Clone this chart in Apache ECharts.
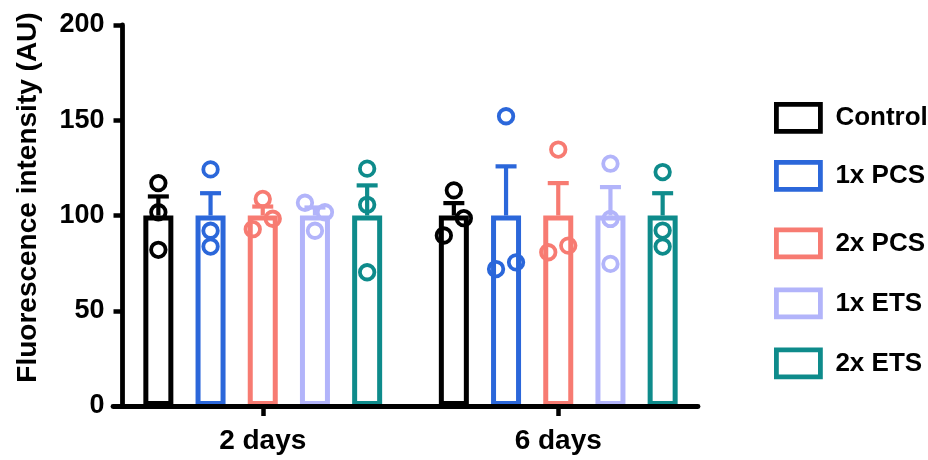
<!DOCTYPE html>
<html><head><meta charset="utf-8">
<script src="https://cdn.jsdelivr.net/npm/echarts@6/dist/echarts.min.js"></script>
<style>html,body{margin:0;padding:0;background:#fff}#c{width:928px;height:460px}</style>
</head><body><div id="c"></div>
<script>
// ---- data ----
const categories = ['2 days', '6 days'];
const groups = ['Control', '1x PCS', '2x PCS', '1x ETS', '2x ETS'];
const colors = ['#000000', '#2B67DA', '#F77B72', '#B2B4FA', '#0E8B8B'];

const meanControl = [100, 100];
const meanPCS1 = [100, 100];
const meanPCS2 = [100, 100];
const meanETS1 = [100, 100];
const meanETS2 = [100, 100];

const semControl = [10.0, 6.5];
const semPCS1 = [11.7, 25.8];
const semPCS2 = [4.7, 17.0];
const semETS1 = [4.2, 14.9];
const semETS2 = [15.8, 11.7];

const ptsControl = [[117.0, 101.7, 82.0], [113.2, 98.6, 89.5]];
const ptsPCS1 = [[124.2, 92.0, 83.7], [152.1, 75.4, 71.9]];
const ptsPCS2 = [[108.7, 98.3, 92.8], [134.6, 84.2, 80.7]];
const ptsETS1 = [[106.7, 101.7, 92.0], [127.2, 98.2, 74.6]];
const ptsETS2 = [[124.6, 105.6, 70.2], [122.8, 92.1, 83.7]];

// horizontal jitter side of each point (-1 left, 0 centre, 1 right)
const jitControl = [[0, 0, 0], [0, 1, -1]];
const jitPCS1 = [[0, 0, 0], [0, 1, -1]];
const jitPCS2 = [[0, 1, -1], [0, 1, -1]];
const jitETS1 = [[-1, 1, 0], [0, 0, 0]];
const jitETS2 = [[0, 0, 0], [0, 0, 0]];

const yTicks = [0, 50, 100, 150, 200];

// ---- layout ----
const means = [meanControl, meanPCS1, meanPCS2, meanETS1, meanETS2];
const sems = [semControl, semPCS1, semPCS2, semETS1, semETS2];
const pts = [ptsControl, ptsPCS1, ptsPCS2, ptsETS1, ptsETS2];
const jits = [jitControl, jitPCS1, jitPCS2, jitETS1, jitETS2];

const FONT = 'Liberation Sans, Arial, Helvetica, sans-serif';
const gridLeft = 115, gridWidth = 591;
const barWidth = 30, barGap = 0.74;
const catPx = gridWidth / categories.length;
const stepU = barWidth * (1 + barGap) / catPx;
const jitU = 10 / catPx;
const legendTops = [102, 160, 227.5, 287.5, 347.5];

const series = [];
groups.forEach((g, i) => {
  series.push({
    type: 'bar', name: g, xAxisIndex: 0, yAxisIndex: 0,
    data: means[i], barWidth: barWidth, barGap: (barGap * 100) + '%',
    itemStyle: { color: '#fff', borderColor: colors[i], borderWidth: 5 },
    z: 2, silent: true
  });
});
groups.forEach((g, i) => {
  const d = categories.map((c, ci) => [ci + (i - 2) * stepU, means[i][ci], means[i][ci] + sems[i][ci]]);
  series.push({
    type: 'custom', name: g, xAxisIndex: 1, yAxisIndex: 0, data: d, z: 3, silent: true,
    renderItem: (params, api) => {
      const x = api.value(0), m = api.value(1), t = api.value(2);
      const p0 = api.coord([x, m]), p1 = api.coord([x, t]);
      const half = 10.5;
      return { type: 'group', children: [
        { type: 'line', shape: { x1: p0[0], y1: p0[1], x2: p1[0], y2: p1[1] }, style: { stroke: colors[i], lineWidth: 4.2 } },
        { type: 'line', shape: { x1: p1[0] - half, y1: p1[1], x2: p1[0] + half, y2: p1[1] }, style: { stroke: colors[i], lineWidth: 4.2 } }
      ] };
    }
  });
});
groups.forEach((g, i) => {
  const d = [];
  categories.forEach((c, ci) => {
    pts[i][ci].forEach((v, k) => d.push([ci + (i - 2) * stepU + jits[i][ci][k] * jitU, v]));
  });
  series.push({
    type: 'scatter', name: g, xAxisIndex: 1, yAxisIndex: 0, data: d, z: 4, silent: true,
    symbol: 'circle', symbolSize: 14.5,
    itemStyle: { color: 'rgba(0,0,0,0)', borderColor: colors[i], borderWidth: 3.8, opacity: 1 }
  });
});

const option = {
  animation: false,
  backgroundColor: '#fff',
  grid: [
    { left: gridLeft, width: gridWidth, top: 25, bottom: 54 },
    { left: 113, width: 585, top: 25, bottom: 54 }
  ],
  xAxis: [
    { type: 'category', gridIndex: 0, data: categories,
      axisLine: { show: false },
      axisTick: { show: true, alignWithLabel: true, length: 10, lineStyle: { width: 4.5, color: '#000' } },
      axisLabel: { fontSize: 28, fontWeight: 'bold', color: '#000', margin: 21, fontFamily: FONT } },
    { type: 'value', gridIndex: 0, min: -0.5, max: 1.5, show: false },
    { type: 'value', gridIndex: 1, min: 0, max: 1, z: 10,
      axisLine: { show: true, onZero: false, lineStyle: { width: 4.8, color: '#000' } },
      axisTick: { show: false }, axisLabel: { show: false }, splitLine: { show: false } }
  ],
  yAxis: [
    { type: 'value', gridIndex: 0, min: yTicks[0], max: yTicks[yTicks.length - 1], interval: yTicks[1] - yTicks[0],
      offset: -7.5, z: 10,
      axisLine: { show: true, onZero: false, lineStyle: { width: 4.8, color: '#000' } },
      axisTick: { show: true, length: 9, lineStyle: { width: 4.5, color: '#000' } },
      axisLabel: { fontSize: 27, fontWeight: 'bold', color: '#000', margin: 18, fontFamily: FONT },
      splitLine: { show: false },
      name: 'Fluorescence intensity (AU)', nameLocation: 'middle', nameGap: 80,
      nameTextStyle: { fontSize: 28, fontWeight: 'bold', color: '#000', fontFamily: FONT, padding: [0, 0, 0, 36] } },
    { type: 'value', gridIndex: 1, min: 0, max: 200, show: false }
  ],
  legend: groups.map((g, i) => ({
    data: [g], left: 774, top: legendTops[i], orient: 'vertical', padding: 0,
    icon: 'rect', itemWidth: 44, itemHeight: 27,
    itemStyle: { color: '#fff', borderColor: colors[i], borderWidth: 4.8 },
    textStyle: { fontSize: 26, fontWeight: 'bold', color: '#000', fontFamily: FONT, padding: [0, 0, 0, 10] },
    selectedMode: false
  })),
  series: series
};
echarts.init(document.getElementById('c')).setOption(option);
</script>
</body></html>
